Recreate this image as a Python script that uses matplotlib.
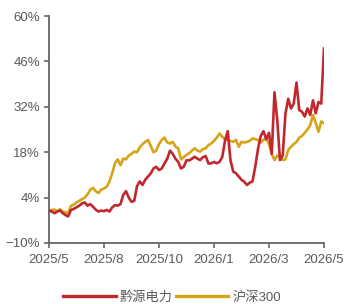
import numpy as np
import matplotlib
matplotlib.use('Agg')
import matplotlib.pyplot as plt

plt.rcParams['font.family'] = ['Liberation Sans', 'Noto Sans CJK SC', 'DejaVu Sans']

# Данные: накопленная доходность, %
qianyuan = [0, -0.3, -0.8, -0.3, 0, -0.8, -1.4, -1.8, 0.2, 0.5,
            1.0, 1.5, 2.2, 2.5, 1.5, 2.0, 1.2, 0.3, -0.3, 0,
            -0.2, 0.2, -0.3, 1.0, 1.7, 1.5, 2.0, 4.8, 6.0, 4.0,
            2.7, 3.0, 7.5, 9.0, 7.9, 9.5, 10.5, 11.5, 13.0, 13.5,
            12.5, 13.0, 14.5, 16.0, 18.5, 17.5, 16.0, 15.0, 13.0, 13.5,
            15.5, 15.5, 16.0, 16.6, 16.0, 15.6, 16.5, 16.8, 14.5, 14.6,
            15.0, 14.6, 15.0, 16.5, 21.5, 24.5, 15.5, 12.0, 11.5, 10.5,
            9.5, 8.9, 7.9, 8.6, 9.0, 13.5, 19.0, 23.0, 24.5, 22.0,
            24.0, 17.5, 36.5, 28.0, 15.6, 17.0, 30.0, 34.5, 31.5, 33.0,
            39.5, 31.0, 30.5, 29.0, 31.5, 29.5, 34.0, 30.0, 33.5, 33.0,
            50.0]
hs300 = [0, 0.2, 0.3, -0.2, 0.4, -0.3, -0.5, -0.8, 1.5, 1.8,
         2.5, 3.0, 3.5, 4.0, 5.0, 6.4, 7.0, 6.0, 5.4, 6.5,
         6.8, 7.4, 9.0, 11.5, 14.6, 15.8, 14.0, 16.0, 15.8, 17.0,
         17.5, 18.2, 18.0, 19.5, 20.5, 21.2, 21.8, 20.0, 18.0, 18.5,
         20.5, 21.8, 22.5, 21.0, 20.7, 21.2, 19.7, 19.2, 15.8, 16.5,
         17.2, 17.7, 18.5, 19.2, 18.5, 18.2, 19.0, 19.2, 20.2, 20.7,
         21.5, 22.5, 23.8, 22.8, 22.0, 21.8, 21.5, 21.2, 21.8, 19.7,
         21.2, 21.0, 21.2, 21.5, 22.3, 22.0, 21.8, 21.0, 21.8, 22.3,
         20.5, 17.5, 15.6, 17.0, 16.5, 15.6, 15.8, 18.7, 19.7, 20.5,
         21.2, 22.5, 23.0, 24.0, 25.0, 26.4, 29.5, 27.0, 24.3, 27.5,
         27.0]
xtick_labels = ['2025/5', '2025/8', '2025/10', '2026/1', '2026/3', '2026/5']
yticks = [-10, 4, 18, 32, 46, 60]
ytick_labels = ['\u221210%', '4%', '18%', '32%', '46%', '60%']

x = np.arange(len(qianyuan))

fig = plt.figure(figsize=(3.44, 3.04), dpi=100)
ax = fig.add_axes([0.1424, 0.2007, 0.7994, 0.7463])

ax.plot(x, qianyuan, color='#c1272d', linewidth=1.9, label='黔源电力', zorder=3)
ax.plot(x, hs300, color='#d6a417', linewidth=1.9, label='沪深300', zorder=2)

ax.set_xlim(0, len(x) - 1)
ax.set_ylim(-10, 60)
ax.set_xticks(np.linspace(0, len(x) - 1, len(xtick_labels)))
ax.set_xticklabels(xtick_labels)
ax.set_yticks(yticks)
ax.set_yticklabels(ytick_labels)

for s in ['top', 'right']:
    ax.spines[s].set_visible(False)
for s in ['left', 'bottom']:
    ax.spines[s].set_color('#666666')
    ax.spines[s].set_linewidth(1.3)
ax.tick_params(axis='both', colors='#666666', labelcolor='#595959',
               labelsize=9.5, length=3.6, width=1.2)
ax.tick_params(axis='x', pad=4.5)
ax.tick_params(axis='y', pad=3)

fig.legend(loc='center', bbox_to_anchor=(0.5, 0.022), ncol=2, frameon=False,
           fontsize=9.5, handlelength=4.0, handletextpad=0.3, columnspacing=0.2,
           labelcolor='#595959')
for line in fig.legends[0].get_lines():
    line.set_linewidth(2.4)

fig.savefig('out.png', dpi=100)
